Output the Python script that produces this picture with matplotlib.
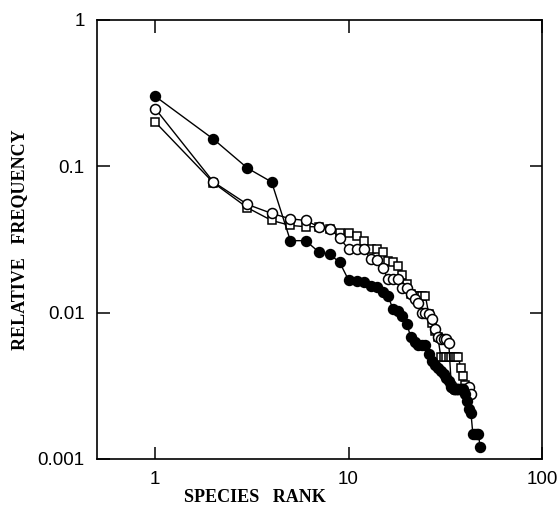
import matplotlib
matplotlib.use('Agg')
import matplotlib.pyplot as plt
from matplotlib.ticker import FixedLocator, NullLocator

# relative frequency by species rank, three samples
freq_filled = [0.30, 0.153, 0.097, 0.078, 0.031, 0.031, 0.026, 0.025, 0.022, 0.0167,
               0.0165, 0.0162, 0.0153, 0.015, 0.0138, 0.013, 0.0105, 0.0103, 0.0095, 0.0084,
               0.0068, 0.0063, 0.006, 0.006, 0.006, 0.0052, 0.0047, 0.0044, 0.0042, 0.0040,
               0.0038, 0.0036, 0.0034, 0.0031, 0.003, 0.003, 0.003, 0.003, 0.003, 0.0028,
               0.0025, 0.0022, 0.00205, 0.00147, 0.00147, 0.00147, 0.00147, 0.0012]
freq_open = [0.247, 0.078, 0.0548, 0.0476, 0.0437, 0.0426, 0.0386, 0.0374, 0.0325, 0.027,
             0.027, 0.027, 0.0234, 0.023, 0.0203, 0.0169, 0.0169, 0.0169, 0.0148, 0.0147,
             0.0133, 0.0123, 0.0117, 0.010, 0.010, 0.0098, 0.009, 0.0077, 0.0068, 0.0066,
             0.0066, 0.0066, 0.0062, 0.0032, 0.003, 0.003, 0.003, 0.003, 0.003, 0.003,
             0.003, 0.0031, 0.0028]
freq_square = [0.20, 0.077, 0.052, 0.0426, 0.0394, 0.0386, 0.0386, 0.0374, 0.0347, 0.0347,
               0.0333, 0.0308, 0.027, 0.027, 0.0261, 0.0225, 0.022, 0.0208, 0.0182, 0.0156,
               0.0133, 0.0129, 0.0129, 0.0129, 0.0129, 0.0098, 0.0085, 0.0075, 0.0068, 0.005,
               0.005, 0.005, 0.005, 0.005, 0.005, 0.005, 0.005, 0.0042, 0.0037, 0.0032]

x_ticks = [1, 10, 100]
x_labels = ['1', '10', '100']
y_ticks = [0.001, 0.01, 0.1, 1]
y_labels = ['0.001', '0.01', '0.1', '1']

fig = plt.figure(figsize=(5.58, 5.08), dpi=100)
ax = fig.add_axes([0.174, 0.0965, 0.797, 0.8645])

ax.plot(range(1, len(freq_square) + 1), freq_square, color='black', lw=1.0,
        marker='s', ms=5.8, mfc='white', mec='black', mew=1.1, zorder=2)
ax.plot(range(1, len(freq_open) + 1), freq_open, color='black', lw=1.0,
        marker='o', ms=7.2, mfc='white', mec='black', mew=1.1, zorder=3)
ax.plot(range(1, len(freq_filled) + 1), freq_filled, color='black', lw=1.0,
        marker='o', ms=7.2, mfc='black', mec='black', zorder=4)

ax.set_xscale('log')
ax.set_yscale('log')
ax.set_xlim(0.5, 100)
ax.set_ylim(0.001, 1)

ax.xaxis.set_major_locator(FixedLocator(x_ticks))
ax.xaxis.set_minor_locator(NullLocator())
ax.yaxis.set_major_locator(FixedLocator(y_ticks))
ax.yaxis.set_minor_locator(NullLocator())
ax.set_xticklabels(x_labels, fontsize=13.5, family='Liberation Sans')
ax.set_yticklabels(y_labels, fontsize=13.5, family='Liberation Sans')
ax.tick_params(direction='in', length=9, width=1.1, top=True, right=True, pad=9)

for s in ax.spines.values():
    s.set_linewidth(1.2)

ax.set_xlabel('SPECIES   RANK', fontsize=13, family='Liberation Serif', weight='bold')
ax.set_ylabel('RELATIVE   FREQUENCY', fontsize=13, family='Liberation Serif', weight='bold')
ax.xaxis.set_label_coords(0.355, -0.068)
ax.yaxis.set_label_coords(-0.155, 0.5)

fig.savefig('out.png', dpi=100)
